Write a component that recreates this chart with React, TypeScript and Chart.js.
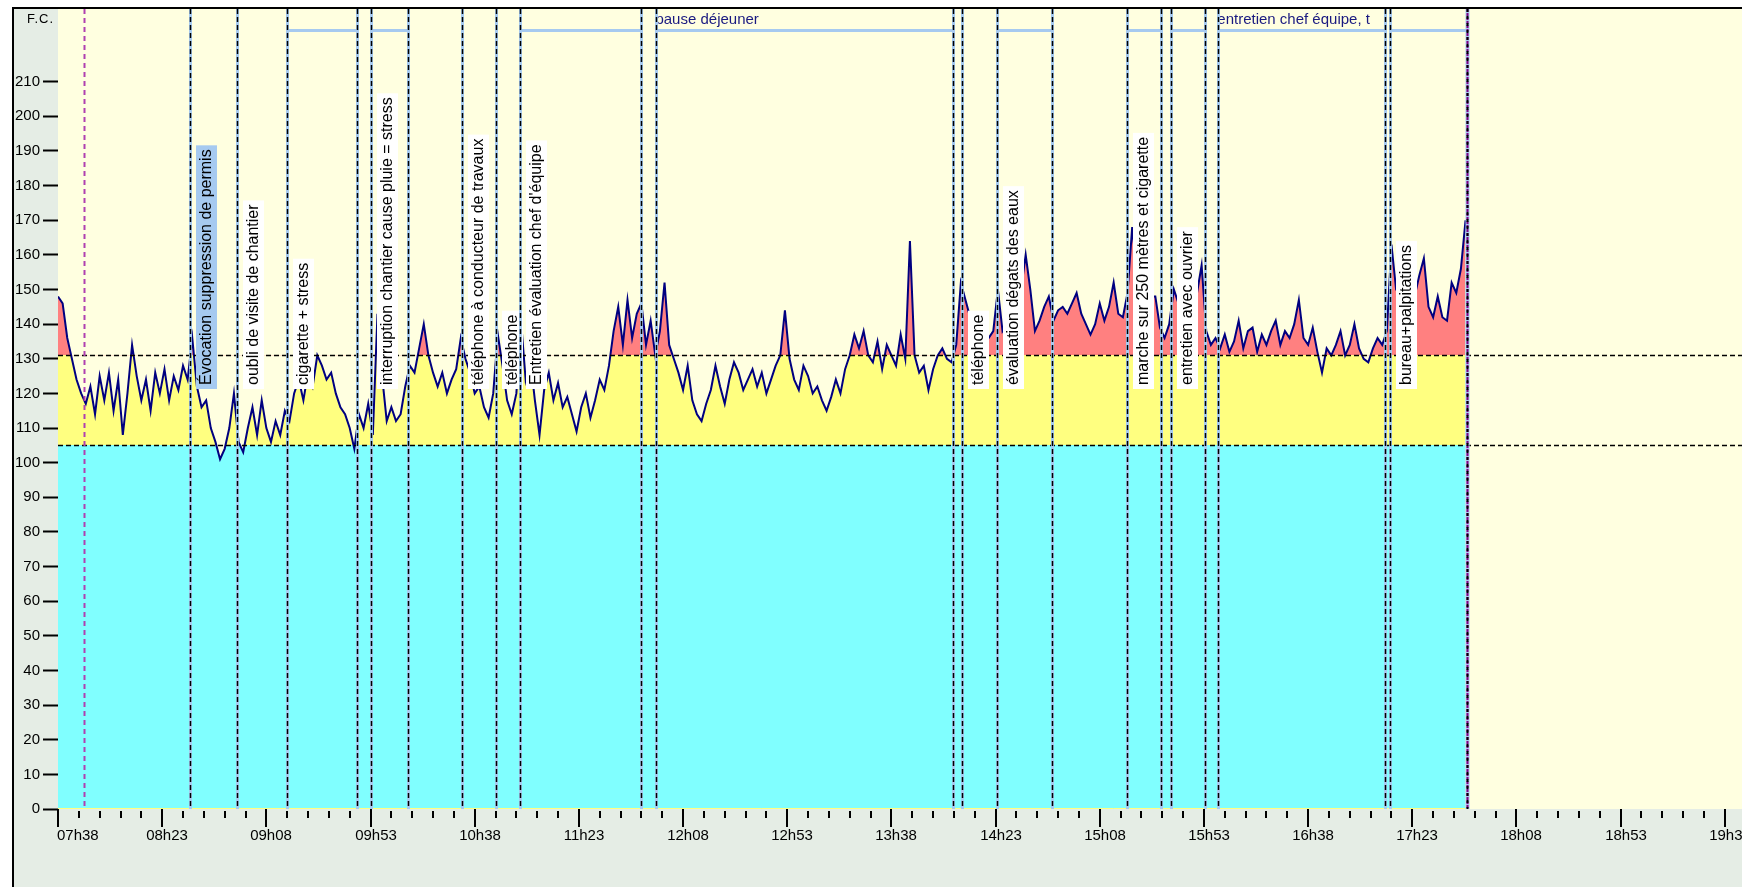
import React, { useEffect, useRef } from 'react';
import { Chart, registerables } from 'chart.js';

Chart.register(...registerables);

// ---------------- data ----------------
const startClockMinutes = 7 * 60 + 38; // 07h38 = left edge of the time axis
const sampleStepMinutes = 2;

// heart rate (F.C., bpm), one value every 2 minutes from 07h38
const heartRate: number[] = [
  148, 146, 136, 130, 124, 120, 117, 122, 114, 125,
  118, 126, 115, 124, 108, 120, 134, 125, 118, 124,
  115, 126, 120, 127, 118, 125, 121, 128, 124, 136,
  122, 116, 118, 110, 106, 101, 104, 110, 120, 106,
  103, 110, 116, 108, 118, 110, 106, 112, 108, 115,
  112, 120, 124, 118, 126, 122, 131, 128, 124, 126,
  120, 116, 114, 110, 104, 114, 110, 117, 108, 143,
  125, 112, 116, 112, 114, 122, 128, 126, 133, 140,
  131, 126, 122, 126, 120, 124, 127, 136, 130, 126,
  120, 122, 116, 113, 120, 137, 128, 118, 114, 120,
  141, 124, 130, 118, 108, 121, 126, 118, 123, 116,
  119, 114, 109, 116, 120, 113, 118, 124, 121, 128,
  138, 145, 134, 147, 136, 143, 146, 134, 141, 131,
  138, 152, 134, 130, 126, 121, 128, 118, 114, 112,
  117, 121, 128, 122, 117, 124, 129, 126, 121, 124,
  127, 122, 126, 120, 124, 128, 131, 144, 130, 124,
  121, 128, 125, 120, 122, 118, 115, 119, 124, 120,
  127, 131, 137, 133, 138, 131, 129, 135, 127, 134,
  131, 128, 137, 130, 164, 131, 126, 128, 121, 127,
  131, 133, 130, 129, 134, 152, 147, 142, 140, 138,
  137, 136, 138, 150, 138, 140, 142, 145, 150, 160,
  150, 138, 141, 145, 148, 141, 144, 145, 143, 146,
  149, 143, 140, 137, 140, 146, 141, 145, 152, 143,
  142, 149, 168, 155, 150, 150, 148, 148, 139, 136,
  140, 150, 146, 143, 142, 140, 149, 157, 138, 134,
  136, 133, 137, 132, 135, 141, 133, 138, 139, 132,
  137, 134, 138, 141, 134, 138, 136, 140, 147, 136,
  134, 139, 132, 126, 133, 131, 134, 138, 131, 134,
  140, 133, 130, 129, 133, 136, 134, 138, 163, 150,
  148, 146, 145, 148, 154, 159, 145, 142, 148, 142,
  141, 152, 149, 156, 170,
];

const upperLimit = 131;
const lowerLimit = 105;

const yAxisMax = 231;
const yTickStep = 10;
const yTickLabelMax = 210;

const xAxisSpanMinutes = 765;
const xMajorTickMinutes = 45;
const xMinorTickMinutes = 9;

// recording start / end markers (minutes after 07h38)
const recordingMarks = [11.4, 608.7];

// events (minutes after 07h38)
const eventLabels = [
  'Évocation suppression de permis',
  'oubli de visite de chantier',
  'cigarette + stress',
  'interruption chantier cause pluie = stress',
  'téléphone à conducteur de travaux',
  'téléphone',
  "Entretien évaluation chef d'équipe",
  'pause déjeuner',
  'téléphone',
  'évaluation dégats des eaux',
  'marche sur 250 mètres et cigarette',
  'entretien avec ouvrier',
  'entretien chef équipe, t',
  'bureau+palpitations',
];
const eventStarts = [57.2, 77.5, 99.1, 135.4, 174.3, 189.4, 199.7, 258.5, 390.6, 405.7, 461.9, 480.9, 501.2, 575.5];
const eventEnds: (number | null)[] = [null, null, 129.3, 151, null, null, 252, 386.7, null, 429.5, 476.6, 495.6, 573.3, 608.7];
const eventLabelModes = ['v', 'v', 'v', 'v', 'v', 'v', 'v', 'h', 'v', 'v', 'v', 'v', 'h', 'v'];
const highlightedEvent = 0;

// ---------------- styling ----------------
const FONT = '"Liberation Sans", Arial, sans-serif';
const CANVAS_W = 1815;
const CANVAS_H = 880;
const Y_AXIS_W = 44;
const X_AXIS_H = 80;
const LIGHT_BLUE = '#A6CAF0';

const formatClock = (m: number) => {
  const c = Math.round(startClockMinutes + m);
  const h = Math.floor(c / 60);
  const mm = c % 60;
  return `${String(h).padStart(2, '0')}h${String(mm).padStart(2, '0')}`;
};

const decorPlugin = {
  id: 'decor',
  beforeDraw(chart: any) {
    const { ctx, chartArea: a } = chart;
    ctx.save();
    ctx.fillStyle = '#FFFFE0';
    ctx.fillRect(a.left, a.top, a.right - a.left, a.bottom - a.top);
    ctx.restore();
  },
  afterDatasetsDraw(chart: any) {
    const { ctx, chartArea: a, scales } = chart;
    const X = (m: number) => scales.x.getPixelForValue(m);
    const Y = (v: number) => scales.y.getPixelForValue(v);
    const vline = (x: number) => {
      ctx.beginPath();
      ctx.moveTo(x, a.top);
      ctx.lineTo(x, a.bottom);
      ctx.stroke();
    };
    ctx.save();

    // thin yellow edge along the baseline under the recorded data
    ctx.strokeStyle = '#FFFF80';
    ctx.lineWidth = 1;
    ctx.beginPath();
    ctx.moveTo(X(0), a.bottom - 0.5);
    ctx.lineTo(X((heartRate.length - 1) * sampleStepMinutes), a.bottom - 0.5);
    ctx.stroke();

    // threshold lines
    ctx.strokeStyle = '#000';
    ctx.lineWidth = 1.5;
    ctx.setLineDash([5, 3]);
    for (const v of [upperLimit, lowerLimit]) {
      const y = Math.round(Y(v)) + 0.5;
      ctx.beginPath();
      ctx.moveTo(a.left, y);
      ctx.lineTo(a.right, y);
      ctx.stroke();
    }
    ctx.setLineDash([]);

    // duration bars at the top
    ctx.fillStyle = LIGHT_BLUE;
    eventStarts.forEach((s, i) => {
      const e = eventEnds[i];
      if (e == null) return;
      ctx.fillRect(X(s), a.top + 20, X(e) - X(s), 3);
    });

    // horizontal labels at the top
    ctx.font = `15px ${FONT}`;
    ctx.fillStyle = '#1A1A80';
    ctx.textAlign = 'left';
    ctx.textBaseline = 'alphabetic';
    eventStarts.forEach((s, i) => {
      if (eventLabelModes[i] !== 'h') return;
      const x0 = X(s) - 1;
      const x1 = X(eventEnds[i] as number);
      ctx.save();
      ctx.beginPath();
      ctx.rect(x0, a.top, x1 - x0, 30);
      ctx.clip();
      ctx.fillText(eventLabels[i], x0, a.top + 14.5);
      ctx.restore();
    });

    // vertical labels with boxes
    ctx.font = `16px ${FONT}`;
    const labelBottom = a.top + 380;
    eventStarts.forEach((s, i) => {
      if (eventLabelModes[i] !== 'v') return;
      const lx = Math.round(X(s));
      const w = ctx.measureText(eventLabels[i]).width;
      ctx.fillStyle = i === highlightedEvent ? LIGHT_BLUE : '#FFFFFF';
      ctx.fillRect(lx + 6, labelBottom - w - 8, 21, w + 8);
      ctx.save();
      ctx.translate(lx + 16.5, labelBottom - 4);
      ctx.rotate(-Math.PI / 2);
      ctx.fillStyle = '#000';
      ctx.textAlign = 'left';
      ctx.textBaseline = 'middle';
      ctx.fillText(eventLabels[i], 0, 0);
      ctx.restore();
    });

    // event lines
    const lineTimes: number[] = [];
    eventStarts.forEach((s, i) => {
      lineTimes.push(s);
      const e = eventEnds[i];
      if (e != null && e !== recordingMarks[1]) lineTimes.push(e);
    });
    for (const m of lineTimes) {
      const x = Math.round(X(m)) + 0.5;
      ctx.setLineDash([]);
      ctx.strokeStyle = LIGHT_BLUE;
      ctx.lineWidth = 3;
      vline(x);
      ctx.setLineDash([5, 3]);
      ctx.strokeStyle = '#000';
      ctx.lineWidth = 1.5;
      vline(x);
    }

    // recording start marker
    {
      const x = Math.round(X(recordingMarks[0])) + 0.5;
      ctx.setLineDash([5, 4]);
      ctx.strokeStyle = '#B040B0';
      ctx.lineWidth = 2;
      vline(x);
    }
    // recording end marker
    {
      const x = Math.round(X(recordingMarks[1])) + 0.5;
      ctx.setLineDash([]);
      ctx.strokeStyle = LIGHT_BLUE;
      ctx.lineWidth = 4;
      vline(x);
      ctx.strokeStyle = '#800080';
      ctx.lineWidth = 2;
      ctx.setLineDash([3, 1]);
      vline(x);
      ctx.strokeStyle = '#000';
      ctx.setLineDash([3, 4]);
      vline(x);
    }
    ctx.restore();
  },
  afterDraw(chart: any) {
    const { ctx, chartArea: a, scales } = chart;
    const xs = scales.x;
    ctx.save();
    // time axis ticks and labels
    ctx.strokeStyle = '#000';
    ctx.lineWidth = 2;
    ctx.font = `15px ${FONT}`;
    ctx.fillStyle = '#000';
    ctx.textBaseline = 'middle';
    for (let m = 0; m <= xAxisSpanMinutes; m += xMinorTickMinutes) {
      const x = Math.round(xs.getPixelForValue(m));
      const major = m % xMajorTickMinutes === 0;
      ctx.beginPath();
      ctx.moveTo(x, a.bottom + (major ? 0 : 2));
      ctx.lineTo(x, a.bottom + (major ? 18 : 9));
      ctx.stroke();
      if (major) {
        const label = formatClock(m);
        const w = ctx.measureText(label).width;
        let cx = x + 5 - w / 2;
        if (cx < a.left - 1) cx = a.left - 1;
        ctx.textAlign = 'left';
        ctx.fillText(label, cx, a.bottom + 27);
      }
    }
    // axis title
    ctx.font = `13px ${FONT}`;
    (ctx as any).letterSpacing = '1px';
    ctx.textAlign = 'right';
    ctx.fillText('F.C.', a.left - 4, a.top + 10);
    ctx.restore();
  },
};

export default function App() {
  const canvasRef = useRef<HTMLCanvasElement | null>(null);

  useEffect(() => {
    const canvas = canvasRef.current;
    if (!canvas) return;
    const points = heartRate.map((v, i) => ({ x: i * sampleStepMinutes, y: v }));
    const clear = 'rgba(0,0,0,0)';
    const chart = new Chart(canvas, {
      type: 'line',
      data: {
        datasets: [
          { data: points, borderColor: '#000080', borderWidth: 2, pointRadius: 0, fill: false },
          {
            data: points,
            borderColor: clear,
            borderWidth: 0,
            pointRadius: 0,
            fill: { target: { value: upperLimit }, above: '#FF8080', below: clear },
          },
          {
            data: points,
            borderColor: clear,
            borderWidth: 0,
            pointRadius: 0,
            fill: { target: { value: lowerLimit }, above: '#FFFF80', below: clear },
          },
          {
            data: points,
            borderColor: clear,
            borderWidth: 0,
            pointRadius: 0,
            fill: { target: 'origin', above: '#80FFFF', below: '#80FFFF' },
          },
        ],
      } as any,
      options: {
        responsive: false,
        animation: false,
        devicePixelRatio: 1,
        events: [],
        layout: { padding: 0 },
        elements: { line: { tension: 0 } },
        plugins: { legend: { display: false }, tooltip: { enabled: false }, title: { display: false } },
        scales: {
          x: {
            type: 'linear',
            min: 0,
            max: xAxisSpanMinutes,
            ticks: { display: false },
            grid: { display: false },
            border: { display: false },
            afterFit: (s: any) => {
              s.height = X_AXIS_H;
              s.paddingLeft = 0;
              s.paddingRight = 0;
            },
          },
          y: {
            type: 'linear',
            min: 0,
            max: yAxisMax,
            ticks: {
              stepSize: yTickStep,
              autoSkip: false,
              padding: 3,
              color: '#000',
              font: { family: FONT, size: 15 },
              callback: (v: any) => (v <= yTickLabelMax && v % yTickStep === 0 ? String(v) : ''),
            },
            grid: {
              drawOnChartArea: false,
              drawTicks: true,
              tickLength: 15,
              tickWidth: 2,
              tickColor: (c: any) => (c.tick && c.tick.value <= yTickLabelMax ? '#000' : clear),
            },
            border: { display: false },
            afterFit: (s: any) => {
              s.width = Y_AXIS_W;
              s.paddingTop = 0;
              s.paddingBottom = 0;
            },
          },
        },
      } as any,
      plugins: [decorPlugin],
    });
    return () => chart.destroy();
  }, []);

  return (
    <div style={{ position: 'fixed', inset: 0, overflow: 'hidden', background: '#fff' }}>
      <div
        style={{
          position: 'absolute',
          left: 12,
          top: 7,
          borderLeft: '2px solid #000',
          borderTop: '2px solid #000',
          background: '#E5EDE5',
          width: CANVAS_W,
          height: CANVAS_H,
        }}
      >
        <canvas ref={canvasRef} width={CANVAS_W} height={CANVAS_H} style={{ display: 'block' }} />
      </div>
    </div>
  );
}
